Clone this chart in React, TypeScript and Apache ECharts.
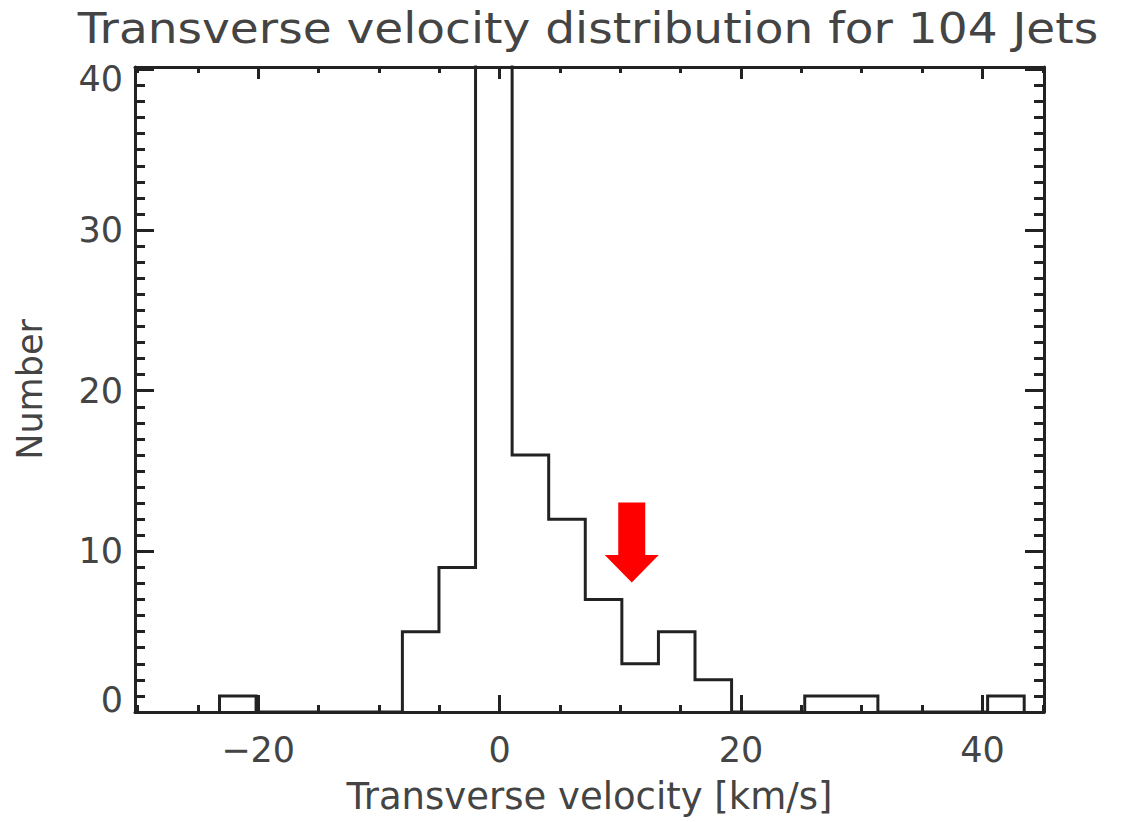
import React, { useEffect, useRef } from "react";
import * as echarts from "echarts";

// Histogram of transverse velocities (km/s): first bin edge, bin width, counts per bin
const binStart = -23.2;
const binWidth = 3.03;
const binCounts = [1, 0, 0, 0, 0, 5, 9, 41, 16, 12, 7, 3, 5, 2, 0, 0, 1, 1, 0, 0, 0, 1];

// Velocity marked by the red arrow (x) and the height of its tip (y)
const arrowMark = [10.95, 8.06];

// Axis ranges and tick positions
const xRange = [-30.2, 45.1];
const yRange = [0, 40.15];
const xMajorTicks = [-20, 0, 20, 40];
const xMinorTicks = [-30, -25, -15, -10, -5, 5, 10, 15, 25, 30, 35, 45];
const yMajorTicks = [0, 10, 20, 30, 40];
const yMinorTicks = [
  1, 2, 3, 4, 5, 6, 7, 8, 9, 11, 12, 13, 14, 15, 16, 17, 18, 19, 21, 22, 23, 24, 25, 26, 27, 28,
  29, 31, 32, 33, 34, 35, 36, 37, 38, 39,
];

const TITLE = "Transverse velocity distribution for 104 Jets";
const INK = "#222222";
const TEXT = "#444444";
const FONT = "DejaVu Sans";

function stepOutline(): number[][] {
  const pts: number[][] = [[binStart, 0]];
  binCounts.forEach((c, i) => {
    const x0 = binStart + i * binWidth;
    const x1 = x0 + binWidth;
    pts.push([x0, c], [x1, c]);
  });
  pts.push([binStart + binCounts.length * binWidth, 0]);
  return pts;
}

function fmtX(v: number): string {
  return v < 0 ? "\u2212" + Math.abs(v) : String(v);
}

function fmtY(v: number): string {
  if (v === 40) return "{top|40}";
  if (v === 0) return "{bot|0}";
  return "{n|" + v + "}";
}

export default function App() {
  const ref = useRef<HTMLDivElement>(null);

  useEffect(() => {
    if (!ref.current) return;
    const chart = echarts.init(ref.current, undefined, { renderer: "svg" });

    const lineW = 3;
    const frameLine = { show: true, onZero: false, lineStyle: { color: INK, width: lineW } };
    const hiddenLine = { show: false, onZero: false };
    const baseX = {
      type: "value" as const,
      min: xRange[0],
      max: xRange[1],
      splitLine: { show: false },
      axisLine: hiddenLine,
      axisLabel: { show: false },
      axisTick: { show: false },
    };
    const baseY = {
      type: "value" as const,
      min: yRange[0],
      max: yRange[1],
      splitLine: { show: false },
      axisLine: hiddenLine,
      axisLabel: { show: false },
      axisTick: { show: false },
    };
    const tick = (values: number[], len: number) => ({
      show: true,
      inside: true,
      customValues: values,
      length: len,
      lineStyle: { color: INK, width: lineW },
    });

    const labelFont = { fontFamily: FONT, fontSize: 35, color: TEXT };
    const nameFont = { fontFamily: FONT, fontSize: 37, color: TEXT };

    chart.setOption({
      animation: false,
      backgroundColor: "#ffffff",
      graphic: [
        {
          type: "text",
          x: 588,
          y: 8,
          scaleX: 1.12,
          style: {
            text: TITLE,
            textAlign: "center",
            textVerticalAlign: "top",
            fontFamily: FONT,
            fontSize: 42,
            fill: TEXT,
          },
        },
      ],
      grid: { left: 135, right: 78, top: 67, bottom: 110, containLabel: false },
      xAxis: [
        {
          ...baseX,
          position: "bottom",
          axisLine: frameLine,
          axisTick: tick(xMajorTicks, 17),
          axisLabel: {
            show: true,
            customValues: xMajorTicks,
            formatter: fmtX,
            margin: 20,
            ...labelFont,
          },
          name: "Transverse velocity [km/s]",
          nameLocation: "middle",
          nameGap: 66,
          nameTextStyle: nameFont,
        },
        { ...baseX, position: "bottom", axisTick: tick(xMinorTicks, 7) },
        {
          ...baseX,
          position: "top",
          axisLine: frameLine,
          axisTick: tick(xMajorTicks, 12),
        },
        { ...baseX, position: "top", axisTick: tick(xMinorTicks, 6) },
      ],
      yAxis: [
        {
          ...baseY,
          position: "left",
          axisLine: frameLine,
          axisTick: tick(yMajorTicks, 19),
          axisLabel: {
            show: true,
            customValues: yMajorTicks,
            formatter: fmtY,
            margin: 12,
            ...labelFont,
            rich: {
              n: { ...labelFont },
              top: { ...labelFont, padding: [20, 0, 0, 0] },
              bot: { ...labelFont, padding: [0, 0, 24, 0] },
            },
          },
          name: "Number",
          nameLocation: "middle",
          nameGap: 88,
          nameTextStyle: labelFont,
        },
        { ...baseY, position: "left", axisTick: tick(yMinorTicks, 10) },
        {
          ...baseY,
          position: "right",
          axisLine: frameLine,
          axisTick: tick(yMajorTicks, 19),
        },
        { ...baseY, position: "right", axisTick: tick(yMinorTicks, 10) },
      ],
      series: [
        {
          type: "line",
          xAxisIndex: 0,
          yAxisIndex: 0,
          data: stepOutline(),
          symbol: "none",
          clip: true,
          lineStyle: { color: INK, width: lineW, join: "miter" },
          silent: true,
        },
        {
          type: "custom",
          xAxisIndex: 0,
          yAxisIndex: 0,
          data: [arrowMark],
          renderItem: (_params: any, api: any) => {
            const tip = api.coord([api.value(0), api.value(1)]);
            const x = tip[0];
            const y = tip[1];
            const shaftHalf = 13.5;
            const headHalf = 27;
            const headLen = 27.5;
            const total = 80;
            return {
              type: "polygon",
              shape: {
                points: [
                  [x, y],
                  [x - headHalf, y - headLen],
                  [x - shaftHalf, y - headLen],
                  [x - shaftHalf, y - total],
                  [x + shaftHalf, y - total],
                  [x + shaftHalf, y - headLen],
                  [x + headHalf, y - headLen],
                ],
              },
              style: { fill: "#ff0000" },
            };
          },
          silent: true,
        },
      ],
    });

    return () => chart.dispose();
  }, []);

  return (
    <div
      ref={ref}
      style={{ position: "fixed", left: 0, top: 0, width: 1122, height: 822, background: "#fff" }}
    />
  );
}
